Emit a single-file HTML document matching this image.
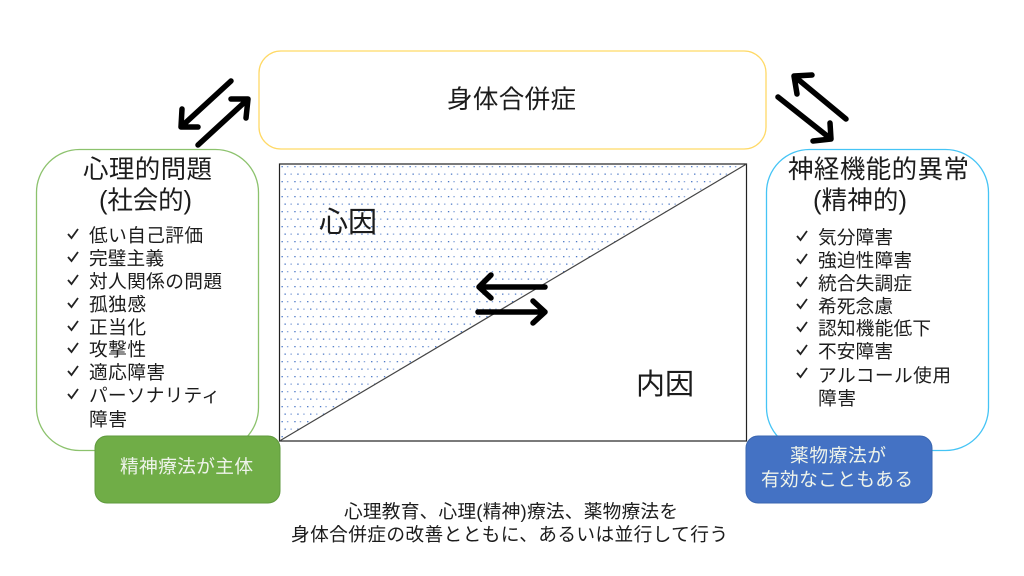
<!DOCTYPE html>
<html lang="ja"><head><meta charset="utf-8"><style>
html,body{margin:0;padding:0;background:#fff;width:1024px;height:576px;overflow:hidden}
svg{display:block}
text{font-family:"Liberation Sans","Noto Sans CJK JP",sans-serif;fill:#1c1c1c}
.t{font-size:25.5px}.k{font-size:29px}.l{font-size:18.7px}.c{font-size:18.7px}.w{fill:#eef3ea;font-size:18.7px}
</style></head><body>
<svg width="1024" height="576" viewBox="0 0 1024 576" xmlns="http://www.w3.org/2000/svg">
<defs><pattern id="d" width="12.800" height="15" patternUnits="userSpaceOnUse" x="281" y="166">
<rect x="0.500" y="0" width="1.300" height="1.300" fill="#4472c4"/><rect x="6" y="0" width="1.300" height="1.300" fill="#7f9fd8"/>
<rect x="3.500" y="7.500" width="1.300" height="1.300" fill="#4472c4"/><rect x="9.500" y="7.500" width="1.300" height="1.300" fill="#7f9fd8"/></pattern></defs>
<rect x="259" y="51" width="507" height="98" rx="22" fill="#fff" stroke="#ffd966" stroke-width="1.300"/>
<rect x="36.500" y="149.500" width="222" height="301" rx="43" fill="#fff" stroke="#8cc26d" stroke-width="1.300"/>
<rect x="766.500" y="149.500" width="222" height="301" rx="43" fill="#fff" stroke="#45c4f5" stroke-width="1.300"/>
<rect x="279.500" y="164" width="467" height="277" fill="#fff"/>
<polygon points="279.500,441 746.500,164 279.500,164" fill="url(#d)"/>
<rect x="279.500" y="164" width="467" height="277" fill="none" stroke="#222" stroke-width="1.200"/>
<line x1="279.500" y1="441" x2="746.500" y2="164" stroke="#444" stroke-width="1.200"/>
<g fill="none" stroke="#000" stroke-width="5.500" stroke-linecap="round" stroke-linejoin="round">
<path d="M231 81L182 126M182 109L181 127L198 127"/>
<path d="M198 145L247 100M231 99L248 99L246 118"/>
<path d="M846 119L794 76M812 75L794 76L797 94"/>
<path d="M778 97L831 139M830 123L831 139L813 141"/>
<path d="M545 287L479 287M491 275L479 287L491 298"/>
<path d="M478 312L545 312M533 301L545 312L533 323"/>
</g>
<rect x="95" y="436" width="185" height="67" rx="12" fill="#70ad47" stroke="#5f9a3d" stroke-width="1"/>
<rect x="746" y="436" width="186" height="67" rx="12" fill="#4472c4" stroke="#3a66b0" stroke-width="1"/>
<text class="t" x="447" y="108" textLength="129">身体合併症</text>
<text class="t" x="83" y="178" textLength="129">心理的問題</text>
<text class="t" x="99" y="209" textLength="93">(社会的)</text>
<text class="t" x="788" y="178" textLength="181">神経機能的異常</text>
<text class="t" x="813" y="209" textLength="94">(精神的)</text>
<text class="k" x="319" y="232" textLength="58">心因</text>
<text class="k" x="636" y="394" textLength="58">内因</text>
<text class="l" x="89" y="242" textLength="114">低い自己評価</text>
<text class="l" x="89" y="265" textLength="75">完璧主義</text>
<text class="l" x="89" y="288" textLength="133">対人関係の問題</text>
<text class="l" x="89" y="311" textLength="57">孤独感</text>
<text class="l" x="89" y="334" textLength="57">正当化</text>
<text class="l" x="89" y="356" textLength="57">攻撃性</text>
<text class="l" x="89" y="379" textLength="76">適応障害</text>
<text class="l" x="89" y="402" textLength="131">パーソナリティ</text>
<text class="l" x="89" y="426" textLength="38">障害</text>
<text class="l" x="818" y="244" textLength="75">気分障害</text>
<text class="l" x="818" y="267" textLength="94">強迫性障害</text>
<text class="l" x="818" y="290" textLength="94">統合失調症</text>
<text class="l" x="818" y="313" textLength="75">希死念慮</text>
<text class="l" x="818" y="335" textLength="113">認知機能低下</text>
<text class="l" x="818" y="358" textLength="75">不安障害</text>
<text class="l" x="818" y="382" textLength="133">アルコール使用</text>
<text class="l" x="818" y="405" textLength="38">障害</text>
<g fill="none" stroke="#222" stroke-width="1.800">
<path d="M68 234L71.500 238L78 229"/><path d="M68 257L71.500 261L78 252"/><path d="M68 280L71.500 284L78 275"/><path d="M68 303L71.500 307L78 298"/><path d="M68 326L71.500 330L78 321"/><path d="M68 348L71.500 352L78 343"/><path d="M68 371L71.500 375L78 366"/><path d="M68 394L71.500 398L78 389"/>
<path d="M797 236L800.500 240L807 231"/><path d="M797 259L800.500 263L807 254"/><path d="M797 282L800.500 286L807 277"/><path d="M797 304L800.500 308L807 299"/><path d="M797 327L800.500 331L807 322"/><path d="M797 350L800.500 354L807 345"/><path d="M797 373L800.500 377L807 368"/>
</g>
<text class="w" x="120" y="473" textLength="133">精神療法が主体</text>
<text class="w" x="790" y="462" textLength="96">薬物療法が</text>
<text class="w" x="761" y="486" textLength="152">有効なこともある</text>
<text class="c" x="344" y="518" textLength="334">心理教育、心理(精神)療法、薬物療法を</text>
<text class="c" x="291" y="541" textLength="437">身体合併症の改善とともに、あるいは並行して行う</text>
</svg></body></html>
